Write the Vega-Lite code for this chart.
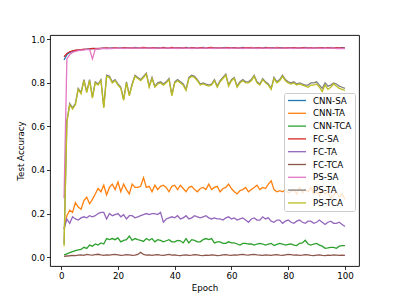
{
"$schema":"https://vega.github.io/schema/vega-lite/v6.json",
"autosize":"none",
"width":309,"height":231,
"padding":{"left":50,"top":35,"right":40,"bottom":33},
"background":"white",
"config":{"view":{"stroke":"#000","strokeWidth":0.9},"font":"DejaVu Sans"},
"datasets":{"d":[
{"e":1,"s":"CNN-SA","v":0.905},{"e":2,"s":"CNN-SA","v":0.93},{"e":3,"s":"CNN-SA","v":0.94},{"e":4,"s":"CNN-SA","v":0.945},{"e":5,"s":"CNN-SA","v":0.948},{"e":6,"s":"CNN-SA","v":0.95},{"e":7,"s":"CNN-SA","v":0.952},{"e":8,"s":"CNN-SA","v":0.953},{"e":9,"s":"CNN-SA","v":0.955},{"e":10,"s":"CNN-SA","v":0.956},
{"e":11,"s":"CNN-SA","v":0.957},{"e":12,"s":"CNN-SA","v":0.958},{"e":13,"s":"CNN-SA","v":0.956},{"e":14,"s":"CNN-SA","v":0.959},{"e":15,"s":"CNN-SA","v":0.96},{"e":16,"s":"CNN-SA","v":0.958},{"e":17,"s":"CNN-SA","v":0.96},{"e":18,"s":"CNN-SA","v":0.961},{"e":19,"s":"CNN-SA","v":0.959},{"e":20,"s":"CNN-SA","v":0.96},
{"e":21,"s":"CNN-SA","v":0.961},{"e":22,"s":"CNN-SA","v":0.96},{"e":23,"s":"CNN-SA","v":0.962},{"e":24,"s":"CNN-SA","v":0.96},{"e":25,"s":"CNN-SA","v":0.961},{"e":26,"s":"CNN-SA","v":0.963},{"e":27,"s":"CNN-SA","v":0.96},{"e":28,"s":"CNN-SA","v":0.961},{"e":29,"s":"CNN-SA","v":0.962},{"e":30,"s":"CNN-SA","v":0.96},
{"e":31,"s":"CNN-SA","v":0.962},{"e":32,"s":"CNN-SA","v":0.961},{"e":33,"s":"CNN-SA","v":0.96},{"e":34,"s":"CNN-SA","v":0.962},{"e":35,"s":"CNN-SA","v":0.961},{"e":36,"s":"CNN-SA","v":0.963},{"e":37,"s":"CNN-SA","v":0.961},{"e":38,"s":"CNN-SA","v":0.96},{"e":39,"s":"CNN-SA","v":0.962},{"e":40,"s":"CNN-SA","v":0.961},
{"e":41,"s":"CNN-SA","v":0.96},{"e":42,"s":"CNN-SA","v":0.962},{"e":43,"s":"CNN-SA","v":0.961},{"e":44,"s":"CNN-SA","v":0.963},{"e":45,"s":"CNN-SA","v":0.96},{"e":46,"s":"CNN-SA","v":0.961},{"e":47,"s":"CNN-SA","v":0.962},{"e":48,"s":"CNN-SA","v":0.96},{"e":49,"s":"CNN-SA","v":0.961},{"e":50,"s":"CNN-SA","v":0.963},
{"e":51,"s":"CNN-SA","v":0.961},{"e":52,"s":"CNN-SA","v":0.96},{"e":53,"s":"CNN-SA","v":0.962},{"e":54,"s":"CNN-SA","v":0.961},{"e":55,"s":"CNN-SA","v":0.96},{"e":56,"s":"CNN-SA","v":0.962},{"e":57,"s":"CNN-SA","v":0.961},{"e":58,"s":"CNN-SA","v":0.963},{"e":59,"s":"CNN-SA","v":0.96},{"e":60,"s":"CNN-SA","v":0.961},
{"e":61,"s":"CNN-SA","v":0.962},{"e":62,"s":"CNN-SA","v":0.96},{"e":63,"s":"CNN-SA","v":0.961},{"e":64,"s":"CNN-SA","v":0.963},{"e":65,"s":"CNN-SA","v":0.961},{"e":66,"s":"CNN-SA","v":0.96},{"e":67,"s":"CNN-SA","v":0.962},{"e":68,"s":"CNN-SA","v":0.961},{"e":69,"s":"CNN-SA","v":0.96},{"e":70,"s":"CNN-SA","v":0.962},
{"e":71,"s":"CNN-SA","v":0.961},{"e":72,"s":"CNN-SA","v":0.963},{"e":73,"s":"CNN-SA","v":0.96},{"e":74,"s":"CNN-SA","v":0.961},{"e":75,"s":"CNN-SA","v":0.962},{"e":76,"s":"CNN-SA","v":0.96},{"e":77,"s":"CNN-SA","v":0.961},{"e":78,"s":"CNN-SA","v":0.962},{"e":79,"s":"CNN-SA","v":0.961},{"e":80,"s":"CNN-SA","v":0.96},
{"e":81,"s":"CNN-SA","v":0.962},{"e":82,"s":"CNN-SA","v":0.961},{"e":83,"s":"CNN-SA","v":0.96},{"e":84,"s":"CNN-SA","v":0.962},{"e":85,"s":"CNN-SA","v":0.961},{"e":86,"s":"CNN-SA","v":0.963},{"e":87,"s":"CNN-SA","v":0.96},{"e":88,"s":"CNN-SA","v":0.961},{"e":89,"s":"CNN-SA","v":0.962},{"e":90,"s":"CNN-SA","v":0.96},
{"e":91,"s":"CNN-SA","v":0.961},{"e":92,"s":"CNN-SA","v":0.962},{"e":93,"s":"CNN-SA","v":0.96},{"e":94,"s":"CNN-SA","v":0.961},{"e":95,"s":"CNN-SA","v":0.963},{"e":96,"s":"CNN-SA","v":0.96},{"e":97,"s":"CNN-SA","v":0.961},{"e":98,"s":"CNN-SA","v":0.96},{"e":99,"s":"CNN-SA","v":0.962},{"e":100,"s":"CNN-SA","v":0.96},
{"e":1,"s":"CNN-TA","v":0.13},{"e":2,"s":"CNN-TA","v":0.19},{"e":3,"s":"CNN-TA","v":0.215},{"e":4,"s":"CNN-TA","v":0.205},{"e":5,"s":"CNN-TA","v":0.25},{"e":6,"s":"CNN-TA","v":0.23},{"e":7,"s":"CNN-TA","v":0.22},{"e":8,"s":"CNN-TA","v":0.26},{"e":9,"s":"CNN-TA","v":0.275},{"e":10,"s":"CNN-TA","v":0.245},
{"e":11,"s":"CNN-TA","v":0.265},{"e":12,"s":"CNN-TA","v":0.29},{"e":13,"s":"CNN-TA","v":0.315},{"e":14,"s":"CNN-TA","v":0.3},{"e":15,"s":"CNN-TA","v":0.33},{"e":16,"s":"CNN-TA","v":0.285},{"e":17,"s":"CNN-TA","v":0.32},{"e":18,"s":"CNN-TA","v":0.335},{"e":19,"s":"CNN-TA","v":0.31},{"e":20,"s":"CNN-TA","v":0.345},
{"e":21,"s":"CNN-TA","v":0.3},{"e":22,"s":"CNN-TA","v":0.335},{"e":23,"s":"CNN-TA","v":0.31},{"e":24,"s":"CNN-TA","v":0.29},{"e":25,"s":"CNN-TA","v":0.335},{"e":26,"s":"CNN-TA","v":0.32},{"e":27,"s":"CNN-TA","v":0.32},{"e":28,"s":"CNN-TA","v":0.325},{"e":29,"s":"CNN-TA","v":0.365},{"e":30,"s":"CNN-TA","v":0.32},
{"e":31,"s":"CNN-TA","v":0.325},{"e":32,"s":"CNN-TA","v":0.3},{"e":33,"s":"CNN-TA","v":0.33},{"e":34,"s":"CNN-TA","v":0.31},{"e":35,"s":"CNN-TA","v":0.325},{"e":36,"s":"CNN-TA","v":0.33},{"e":37,"s":"CNN-TA","v":0.32},{"e":38,"s":"CNN-TA","v":0.3},{"e":39,"s":"CNN-TA","v":0.325},{"e":40,"s":"CNN-TA","v":0.33},
{"e":41,"s":"CNN-TA","v":0.31},{"e":42,"s":"CNN-TA","v":0.33},{"e":43,"s":"CNN-TA","v":0.315},{"e":44,"s":"CNN-TA","v":0.3},{"e":45,"s":"CNN-TA","v":0.32},{"e":46,"s":"CNN-TA","v":0.325},{"e":47,"s":"CNN-TA","v":0.31},{"e":48,"s":"CNN-TA","v":0.3},{"e":49,"s":"CNN-TA","v":0.315},{"e":50,"s":"CNN-TA","v":0.32},
{"e":51,"s":"CNN-TA","v":0.31},{"e":52,"s":"CNN-TA","v":0.335},{"e":53,"s":"CNN-TA","v":0.31},{"e":54,"s":"CNN-TA","v":0.32},{"e":55,"s":"CNN-TA","v":0.325},{"e":56,"s":"CNN-TA","v":0.3},{"e":57,"s":"CNN-TA","v":0.315},{"e":58,"s":"CNN-TA","v":0.32},{"e":59,"s":"CNN-TA","v":0.335},{"e":60,"s":"CNN-TA","v":0.315},
{"e":61,"s":"CNN-TA","v":0.3},{"e":62,"s":"CNN-TA","v":0.29},{"e":63,"s":"CNN-TA","v":0.305},{"e":64,"s":"CNN-TA","v":0.31},{"e":65,"s":"CNN-TA","v":0.32},{"e":66,"s":"CNN-TA","v":0.3},{"e":67,"s":"CNN-TA","v":0.31},{"e":68,"s":"CNN-TA","v":0.32},{"e":69,"s":"CNN-TA","v":0.33},{"e":70,"s":"CNN-TA","v":0.31},
{"e":71,"s":"CNN-TA","v":0.32},{"e":72,"s":"CNN-TA","v":0.315},{"e":73,"s":"CNN-TA","v":0.335},{"e":74,"s":"CNN-TA","v":0.35},{"e":75,"s":"CNN-TA","v":0.31},{"e":76,"s":"CNN-TA","v":0.3},{"e":77,"s":"CNN-TA","v":0.305},{"e":78,"s":"CNN-TA","v":0.3},{"e":79,"s":"CNN-TA","v":0.31},{"e":80,"s":"CNN-TA","v":0.295},
{"e":81,"s":"CNN-TA","v":0.3},{"e":82,"s":"CNN-TA","v":0.31},{"e":83,"s":"CNN-TA","v":0.29},{"e":84,"s":"CNN-TA","v":0.32},{"e":85,"s":"CNN-TA","v":0.295},{"e":86,"s":"CNN-TA","v":0.31},{"e":87,"s":"CNN-TA","v":0.3},{"e":88,"s":"CNN-TA","v":0.32},{"e":89,"s":"CNN-TA","v":0.29},{"e":90,"s":"CNN-TA","v":0.3},
{"e":91,"s":"CNN-TA","v":0.28},{"e":92,"s":"CNN-TA","v":0.31},{"e":93,"s":"CNN-TA","v":0.29},{"e":94,"s":"CNN-TA","v":0.3},{"e":95,"s":"CNN-TA","v":0.27},{"e":96,"s":"CNN-TA","v":0.285},{"e":97,"s":"CNN-TA","v":0.3},{"e":98,"s":"CNN-TA","v":0.275},{"e":99,"s":"CNN-TA","v":0.29},{"e":100,"s":"CNN-TA","v":0.265},
{"e":1,"s":"CNN-TCA","v":0.01},{"e":2,"s":"CNN-TCA","v":0.015},{"e":3,"s":"CNN-TCA","v":0.02},{"e":4,"s":"CNN-TCA","v":0.025},{"e":5,"s":"CNN-TCA","v":0.03},{"e":6,"s":"CNN-TCA","v":0.033},{"e":7,"s":"CNN-TCA","v":0.035},{"e":8,"s":"CNN-TCA","v":0.045},{"e":9,"s":"CNN-TCA","v":0.04},{"e":10,"s":"CNN-TCA","v":0.055},
{"e":11,"s":"CNN-TCA","v":0.05},{"e":12,"s":"CNN-TCA","v":0.06},{"e":13,"s":"CNN-TCA","v":0.055},{"e":14,"s":"CNN-TCA","v":0.065},{"e":15,"s":"CNN-TCA","v":0.06},{"e":16,"s":"CNN-TCA","v":0.085},{"e":17,"s":"CNN-TCA","v":0.08},{"e":18,"s":"CNN-TCA","v":0.085},{"e":19,"s":"CNN-TCA","v":0.08},{"e":20,"s":"CNN-TCA","v":0.088},
{"e":21,"s":"CNN-TCA","v":0.07},{"e":22,"s":"CNN-TCA","v":0.077},{"e":23,"s":"CNN-TCA","v":0.08},{"e":24,"s":"CNN-TCA","v":0.096},{"e":25,"s":"CNN-TCA","v":0.077},{"e":26,"s":"CNN-TCA","v":0.085},{"e":27,"s":"CNN-TCA","v":0.08},{"e":28,"s":"CNN-TCA","v":0.077},{"e":29,"s":"CNN-TCA","v":0.072},{"e":30,"s":"CNN-TCA","v":0.085},
{"e":31,"s":"CNN-TCA","v":0.077},{"e":32,"s":"CNN-TCA","v":0.085},{"e":33,"s":"CNN-TCA","v":0.07},{"e":34,"s":"CNN-TCA","v":0.08},{"e":35,"s":"CNN-TCA","v":0.077},{"e":36,"s":"CNN-TCA","v":0.07},{"e":37,"s":"CNN-TCA","v":0.075},{"e":38,"s":"CNN-TCA","v":0.08},{"e":39,"s":"CNN-TCA","v":0.07},{"e":40,"s":"CNN-TCA","v":0.07},
{"e":41,"s":"CNN-TCA","v":0.077},{"e":42,"s":"CNN-TCA","v":0.075},{"e":43,"s":"CNN-TCA","v":0.065},{"e":44,"s":"CNN-TCA","v":0.085},{"e":45,"s":"CNN-TCA","v":0.065},{"e":46,"s":"CNN-TCA","v":0.08},{"e":47,"s":"CNN-TCA","v":0.077},{"e":48,"s":"CNN-TCA","v":0.07},{"e":49,"s":"CNN-TCA","v":0.07},{"e":50,"s":"CNN-TCA","v":0.08},
{"e":51,"s":"CNN-TCA","v":0.085},{"e":52,"s":"CNN-TCA","v":0.08},{"e":53,"s":"CNN-TCA","v":0.085},{"e":54,"s":"CNN-TCA","v":0.065},{"e":55,"s":"CNN-TCA","v":0.07},{"e":56,"s":"CNN-TCA","v":0.07},{"e":57,"s":"CNN-TCA","v":0.063},{"e":58,"s":"CNN-TCA","v":0.063},{"e":59,"s":"CNN-TCA","v":0.07},{"e":60,"s":"CNN-TCA","v":0.065},
{"e":61,"s":"CNN-TCA","v":0.065},{"e":62,"s":"CNN-TCA","v":0.06},{"e":63,"s":"CNN-TCA","v":0.055},{"e":64,"s":"CNN-TCA","v":0.063},{"e":65,"s":"CNN-TCA","v":0.063},{"e":66,"s":"CNN-TCA","v":0.06},{"e":67,"s":"CNN-TCA","v":0.06},{"e":68,"s":"CNN-TCA","v":0.055},{"e":69,"s":"CNN-TCA","v":0.06},{"e":70,"s":"CNN-TCA","v":0.063},
{"e":71,"s":"CNN-TCA","v":0.06},{"e":72,"s":"CNN-TCA","v":0.055},{"e":73,"s":"CNN-TCA","v":0.06},{"e":74,"s":"CNN-TCA","v":0.063},{"e":75,"s":"CNN-TCA","v":0.053},{"e":76,"s":"CNN-TCA","v":0.058},{"e":77,"s":"CNN-TCA","v":0.063},{"e":78,"s":"CNN-TCA","v":0.06},{"e":79,"s":"CNN-TCA","v":0.055},{"e":80,"s":"CNN-TCA","v":0.058},
{"e":81,"s":"CNN-TCA","v":0.06},{"e":82,"s":"CNN-TCA","v":0.055},{"e":83,"s":"CNN-TCA","v":0.053},{"e":84,"s":"CNN-TCA","v":0.063},{"e":85,"s":"CNN-TCA","v":0.065},{"e":86,"s":"CNN-TCA","v":0.077},{"e":87,"s":"CNN-TCA","v":0.06},{"e":88,"s":"CNN-TCA","v":0.055},{"e":89,"s":"CNN-TCA","v":0.06},{"e":90,"s":"CNN-TCA","v":0.063},
{"e":91,"s":"CNN-TCA","v":0.055},{"e":92,"s":"CNN-TCA","v":0.05},{"e":93,"s":"CNN-TCA","v":0.04},{"e":94,"s":"CNN-TCA","v":0.042},{"e":95,"s":"CNN-TCA","v":0.045},{"e":96,"s":"CNN-TCA","v":0.045},{"e":97,"s":"CNN-TCA","v":0.04},{"e":98,"s":"CNN-TCA","v":0.05},{"e":99,"s":"CNN-TCA","v":0.053},{"e":100,"s":"CNN-TCA","v":0.053},
{"e":1,"s":"FC-SA","v":0.92},{"e":2,"s":"FC-SA","v":0.935},{"e":3,"s":"FC-SA","v":0.943},{"e":4,"s":"FC-SA","v":0.947},{"e":5,"s":"FC-SA","v":0.95},{"e":6,"s":"FC-SA","v":0.951},{"e":7,"s":"FC-SA","v":0.953},{"e":8,"s":"FC-SA","v":0.955},{"e":9,"s":"FC-SA","v":0.954},{"e":10,"s":"FC-SA","v":0.956},
{"e":11,"s":"FC-SA","v":0.958},{"e":12,"s":"FC-SA","v":0.957},{"e":13,"s":"FC-SA","v":0.959},{"e":14,"s":"FC-SA","v":0.958},{"e":15,"s":"FC-SA","v":0.96},{"e":16,"s":"FC-SA","v":0.961},{"e":17,"s":"FC-SA","v":0.959},{"e":18,"s":"FC-SA","v":0.96},{"e":19,"s":"FC-SA","v":0.962},{"e":20,"s":"FC-SA","v":0.96},
{"e":21,"s":"FC-SA","v":0.959},{"e":22,"s":"FC-SA","v":0.962},{"e":23,"s":"FC-SA","v":0.961},{"e":24,"s":"FC-SA","v":0.96},{"e":25,"s":"FC-SA","v":0.962},{"e":26,"s":"FC-SA","v":0.961},{"e":27,"s":"FC-SA","v":0.959},{"e":28,"s":"FC-SA","v":0.962},{"e":29,"s":"FC-SA","v":0.963},{"e":30,"s":"FC-SA","v":0.961},
{"e":31,"s":"FC-SA","v":0.96},{"e":32,"s":"FC-SA","v":0.962},{"e":33,"s":"FC-SA","v":0.961},{"e":34,"s":"FC-SA","v":0.959},{"e":35,"s":"FC-SA","v":0.961},{"e":36,"s":"FC-SA","v":0.962},{"e":37,"s":"FC-SA","v":0.96},{"e":38,"s":"FC-SA","v":0.961},{"e":39,"s":"FC-SA","v":0.963},{"e":40,"s":"FC-SA","v":0.96},
{"e":41,"s":"FC-SA","v":0.961},{"e":42,"s":"FC-SA","v":0.96},{"e":43,"s":"FC-SA","v":0.962},{"e":44,"s":"FC-SA","v":0.961},{"e":45,"s":"FC-SA","v":0.959},{"e":46,"s":"FC-SA","v":0.962},{"e":47,"s":"FC-SA","v":0.961},{"e":48,"s":"FC-SA","v":0.96},{"e":49,"s":"FC-SA","v":0.962},{"e":50,"s":"FC-SA","v":0.961},
{"e":51,"s":"FC-SA","v":0.96},{"e":52,"s":"FC-SA","v":0.962},{"e":53,"s":"FC-SA","v":0.963},{"e":54,"s":"FC-SA","v":0.96},{"e":55,"s":"FC-SA","v":0.961},{"e":56,"s":"FC-SA","v":0.962},{"e":57,"s":"FC-SA","v":0.96},{"e":58,"s":"FC-SA","v":0.961},{"e":59,"s":"FC-SA","v":0.962},{"e":60,"s":"FC-SA","v":0.96},
{"e":61,"s":"FC-SA","v":0.961},{"e":62,"s":"FC-SA","v":0.962},{"e":63,"s":"FC-SA","v":0.96},{"e":64,"s":"FC-SA","v":0.961},{"e":65,"s":"FC-SA","v":0.962},{"e":66,"s":"FC-SA","v":0.961},{"e":67,"s":"FC-SA","v":0.963},{"e":68,"s":"FC-SA","v":0.96},{"e":69,"s":"FC-SA","v":0.961},{"e":70,"s":"FC-SA","v":0.962},
{"e":71,"s":"FC-SA","v":0.96},{"e":72,"s":"FC-SA","v":0.961},{"e":73,"s":"FC-SA","v":0.962},{"e":74,"s":"FC-SA","v":0.96},{"e":75,"s":"FC-SA","v":0.961},{"e":76,"s":"FC-SA","v":0.963},{"e":77,"s":"FC-SA","v":0.961},{"e":78,"s":"FC-SA","v":0.96},{"e":79,"s":"FC-SA","v":0.962},{"e":80,"s":"FC-SA","v":0.961},
{"e":81,"s":"FC-SA","v":0.96},{"e":82,"s":"FC-SA","v":0.962},{"e":83,"s":"FC-SA","v":0.961},{"e":84,"s":"FC-SA","v":0.96},{"e":85,"s":"FC-SA","v":0.962},{"e":86,"s":"FC-SA","v":0.961},{"e":87,"s":"FC-SA","v":0.96},{"e":88,"s":"FC-SA","v":0.962},{"e":89,"s":"FC-SA","v":0.961},{"e":90,"s":"FC-SA","v":0.96},
{"e":91,"s":"FC-SA","v":0.962},{"e":92,"s":"FC-SA","v":0.961},{"e":93,"s":"FC-SA","v":0.96},{"e":94,"s":"FC-SA","v":0.962},{"e":95,"s":"FC-SA","v":0.961},{"e":96,"s":"FC-SA","v":0.96},{"e":97,"s":"FC-SA","v":0.962},{"e":98,"s":"FC-SA","v":0.961},{"e":99,"s":"FC-SA","v":0.96},{"e":100,"s":"FC-SA","v":0.961},
{"e":1,"s":"FC-TA","v":0.13},{"e":2,"s":"FC-TA","v":0.175},{"e":3,"s":"FC-TA","v":0.155},{"e":4,"s":"FC-TA","v":0.185},{"e":5,"s":"FC-TA","v":0.175},{"e":6,"s":"FC-TA","v":0.17},{"e":7,"s":"FC-TA","v":0.18},{"e":8,"s":"FC-TA","v":0.185},{"e":9,"s":"FC-TA","v":0.18},{"e":10,"s":"FC-TA","v":0.19},
{"e":11,"s":"FC-TA","v":0.185},{"e":12,"s":"FC-TA","v":0.19},{"e":13,"s":"FC-TA","v":0.2},{"e":14,"s":"FC-TA","v":0.205},{"e":15,"s":"FC-TA","v":0.205},{"e":16,"s":"FC-TA","v":0.175},{"e":17,"s":"FC-TA","v":0.2},{"e":18,"s":"FC-TA","v":0.19},{"e":19,"s":"FC-TA","v":0.195},{"e":20,"s":"FC-TA","v":0.2},
{"e":21,"s":"FC-TA","v":0.185},{"e":22,"s":"FC-TA","v":0.195},{"e":23,"s":"FC-TA","v":0.175},{"e":24,"s":"FC-TA","v":0.19},{"e":25,"s":"FC-TA","v":0.19},{"e":26,"s":"FC-TA","v":0.18},{"e":27,"s":"FC-TA","v":0.185},{"e":28,"s":"FC-TA","v":0.19},{"e":29,"s":"FC-TA","v":0.195},{"e":30,"s":"FC-TA","v":0.2},
{"e":31,"s":"FC-TA","v":0.195},{"e":32,"s":"FC-TA","v":0.2},{"e":33,"s":"FC-TA","v":0.2},{"e":34,"s":"FC-TA","v":0.195},{"e":35,"s":"FC-TA","v":0.205},{"e":36,"s":"FC-TA","v":0.16},{"e":37,"s":"FC-TA","v":0.175},{"e":38,"s":"FC-TA","v":0.18},{"e":39,"s":"FC-TA","v":0.185},{"e":40,"s":"FC-TA","v":0.18},
{"e":41,"s":"FC-TA","v":0.19},{"e":42,"s":"FC-TA","v":0.175},{"e":43,"s":"FC-TA","v":0.18},{"e":44,"s":"FC-TA","v":0.19},{"e":45,"s":"FC-TA","v":0.175},{"e":46,"s":"FC-TA","v":0.18},{"e":47,"s":"FC-TA","v":0.19},{"e":48,"s":"FC-TA","v":0.185},{"e":49,"s":"FC-TA","v":0.18},{"e":50,"s":"FC-TA","v":0.185},
{"e":51,"s":"FC-TA","v":0.19},{"e":52,"s":"FC-TA","v":0.18},{"e":53,"s":"FC-TA","v":0.175},{"e":54,"s":"FC-TA","v":0.18},{"e":55,"s":"FC-TA","v":0.175},{"e":56,"s":"FC-TA","v":0.175},{"e":57,"s":"FC-TA","v":0.17},{"e":58,"s":"FC-TA","v":0.18},{"e":59,"s":"FC-TA","v":0.185},{"e":60,"s":"FC-TA","v":0.175},
{"e":61,"s":"FC-TA","v":0.18},{"e":62,"s":"FC-TA","v":0.17},{"e":63,"s":"FC-TA","v":0.175},{"e":64,"s":"FC-TA","v":0.18},{"e":65,"s":"FC-TA","v":0.17},{"e":66,"s":"FC-TA","v":0.16},{"e":67,"s":"FC-TA","v":0.175},{"e":68,"s":"FC-TA","v":0.18},{"e":69,"s":"FC-TA","v":0.17},{"e":70,"s":"FC-TA","v":0.17},
{"e":71,"s":"FC-TA","v":0.185},{"e":72,"s":"FC-TA","v":0.175},{"e":73,"s":"FC-TA","v":0.18},{"e":74,"s":"FC-TA","v":0.165},{"e":75,"s":"FC-TA","v":0.16},{"e":76,"s":"FC-TA","v":0.17},{"e":77,"s":"FC-TA","v":0.17},{"e":78,"s":"FC-TA","v":0.155},{"e":79,"s":"FC-TA","v":0.165},{"e":80,"s":"FC-TA","v":0.17},
{"e":81,"s":"FC-TA","v":0.16},{"e":82,"s":"FC-TA","v":0.155},{"e":83,"s":"FC-TA","v":0.165},{"e":84,"s":"FC-TA","v":0.17},{"e":85,"s":"FC-TA","v":0.16},{"e":86,"s":"FC-TA","v":0.155},{"e":87,"s":"FC-TA","v":0.165},{"e":88,"s":"FC-TA","v":0.165},{"e":89,"s":"FC-TA","v":0.155},{"e":90,"s":"FC-TA","v":0.16},
{"e":91,"s":"FC-TA","v":0.17},{"e":92,"s":"FC-TA","v":0.16},{"e":93,"s":"FC-TA","v":0.15},{"e":94,"s":"FC-TA","v":0.16},{"e":95,"s":"FC-TA","v":0.165},{"e":96,"s":"FC-TA","v":0.155},{"e":97,"s":"FC-TA","v":0.155},{"e":98,"s":"FC-TA","v":0.16},{"e":99,"s":"FC-TA","v":0.15},{"e":100,"s":"FC-TA","v":0.14},
{"e":1,"s":"FC-TCA","v":0.003},{"e":2,"s":"FC-TCA","v":0.005},{"e":3,"s":"FC-TCA","v":0.006},{"e":4,"s":"FC-TCA","v":0.008},{"e":5,"s":"FC-TCA","v":0.007},{"e":6,"s":"FC-TCA","v":0.009},{"e":7,"s":"FC-TCA","v":0.01},{"e":8,"s":"FC-TCA","v":0.008},{"e":9,"s":"FC-TCA","v":0.012},{"e":10,"s":"FC-TCA","v":0.01},
{"e":11,"s":"FC-TCA","v":0.009},{"e":12,"s":"FC-TCA","v":0.011},{"e":13,"s":"FC-TCA","v":0.013},{"e":14,"s":"FC-TCA","v":0.01},{"e":15,"s":"FC-TCA","v":0.008},{"e":16,"s":"FC-TCA","v":0.01},{"e":17,"s":"FC-TCA","v":0.009},{"e":18,"s":"FC-TCA","v":0.011},{"e":19,"s":"FC-TCA","v":0.012},{"e":20,"s":"FC-TCA","v":0.01},
{"e":21,"s":"FC-TCA","v":0.008},{"e":22,"s":"FC-TCA","v":0.009},{"e":23,"s":"FC-TCA","v":0.011},{"e":24,"s":"FC-TCA","v":0.01},{"e":25,"s":"FC-TCA","v":0.008},{"e":26,"s":"FC-TCA","v":0.009},{"e":27,"s":"FC-TCA","v":0.012},{"e":28,"s":"FC-TCA","v":0.022},{"e":29,"s":"FC-TCA","v":0.012},{"e":30,"s":"FC-TCA","v":0.009},
{"e":31,"s":"FC-TCA","v":0.01},{"e":32,"s":"FC-TCA","v":0.008},{"e":33,"s":"FC-TCA","v":0.01},{"e":34,"s":"FC-TCA","v":0.011},{"e":35,"s":"FC-TCA","v":0.009},{"e":36,"s":"FC-TCA","v":0.008},{"e":37,"s":"FC-TCA","v":0.01},{"e":38,"s":"FC-TCA","v":0.012},{"e":39,"s":"FC-TCA","v":0.009},{"e":40,"s":"FC-TCA","v":0.01},
{"e":41,"s":"FC-TCA","v":0.008},{"e":42,"s":"FC-TCA","v":0.007},{"e":43,"s":"FC-TCA","v":0.009},{"e":44,"s":"FC-TCA","v":0.01},{"e":45,"s":"FC-TCA","v":0.008},{"e":46,"s":"FC-TCA","v":0.009},{"e":47,"s":"FC-TCA","v":0.011},{"e":48,"s":"FC-TCA","v":0.01},{"e":49,"s":"FC-TCA","v":0.008},{"e":50,"s":"FC-TCA","v":0.007},
{"e":51,"s":"FC-TCA","v":0.009},{"e":52,"s":"FC-TCA","v":0.008},{"e":53,"s":"FC-TCA","v":0.01},{"e":54,"s":"FC-TCA","v":0.009},{"e":55,"s":"FC-TCA","v":0.007},{"e":56,"s":"FC-TCA","v":0.008},{"e":57,"s":"FC-TCA","v":0.01},{"e":58,"s":"FC-TCA","v":0.011},{"e":59,"s":"FC-TCA","v":0.009},{"e":60,"s":"FC-TCA","v":0.008},
{"e":61,"s":"FC-TCA","v":0.01},{"e":62,"s":"FC-TCA","v":0.009},{"e":63,"s":"FC-TCA","v":0.011},{"e":64,"s":"FC-TCA","v":0.012},{"e":65,"s":"FC-TCA","v":0.01},{"e":66,"s":"FC-TCA","v":0.009},{"e":67,"s":"FC-TCA","v":0.011},{"e":68,"s":"FC-TCA","v":0.012},{"e":69,"s":"FC-TCA","v":0.01},{"e":70,"s":"FC-TCA","v":0.009},
{"e":71,"s":"FC-TCA","v":0.008},{"e":72,"s":"FC-TCA","v":0.01},{"e":73,"s":"FC-TCA","v":0.009},{"e":74,"s":"FC-TCA","v":0.008},{"e":75,"s":"FC-TCA","v":0.01},{"e":76,"s":"FC-TCA","v":0.011},{"e":77,"s":"FC-TCA","v":0.009},{"e":78,"s":"FC-TCA","v":0.008},{"e":79,"s":"FC-TCA","v":0.01},{"e":80,"s":"FC-TCA","v":0.012},
{"e":81,"s":"FC-TCA","v":0.011},{"e":82,"s":"FC-TCA","v":0.009},{"e":83,"s":"FC-TCA","v":0.01},{"e":84,"s":"FC-TCA","v":0.008},{"e":85,"s":"FC-TCA","v":0.009},{"e":86,"s":"FC-TCA","v":0.011},{"e":87,"s":"FC-TCA","v":0.01},{"e":88,"s":"FC-TCA","v":0.008},{"e":89,"s":"FC-TCA","v":0.007},{"e":90,"s":"FC-TCA","v":0.009},
{"e":91,"s":"FC-TCA","v":0.01},{"e":92,"s":"FC-TCA","v":0.008},{"e":93,"s":"FC-TCA","v":0.007},{"e":94,"s":"FC-TCA","v":0.009},{"e":95,"s":"FC-TCA","v":0.008},{"e":96,"s":"FC-TCA","v":0.01},{"e":97,"s":"FC-TCA","v":0.009},{"e":98,"s":"FC-TCA","v":0.008},{"e":99,"s":"FC-TCA","v":0.009},{"e":100,"s":"FC-TCA","v":0.008},
{"e":1,"s":"PS-SA","v":0.27},{"e":2,"s":"PS-SA","v":0.91},{"e":3,"s":"PS-SA","v":0.93},{"e":4,"s":"PS-SA","v":0.94},{"e":5,"s":"PS-SA","v":0.945},{"e":6,"s":"PS-SA","v":0.948},{"e":7,"s":"PS-SA","v":0.95},{"e":8,"s":"PS-SA","v":0.952},{"e":9,"s":"PS-SA","v":0.953},{"e":10,"s":"PS-SA","v":0.954},
{"e":11,"s":"PS-SA","v":0.91},{"e":12,"s":"PS-SA","v":0.955},{"e":13,"s":"PS-SA","v":0.956},{"e":14,"s":"PS-SA","v":0.957},{"e":15,"s":"PS-SA","v":0.958},{"e":16,"s":"PS-SA","v":0.957},{"e":17,"s":"PS-SA","v":0.959},{"e":18,"s":"PS-SA","v":0.958},{"e":19,"s":"PS-SA","v":0.96},{"e":20,"s":"PS-SA","v":0.959},
{"e":21,"s":"PS-SA","v":0.96},{"e":22,"s":"PS-SA","v":0.958},{"e":23,"s":"PS-SA","v":0.96},{"e":24,"s":"PS-SA","v":0.959},{"e":25,"s":"PS-SA","v":0.961},{"e":26,"s":"PS-SA","v":0.96},{"e":27,"s":"PS-SA","v":0.959},{"e":28,"s":"PS-SA","v":0.961},{"e":29,"s":"PS-SA","v":0.96},{"e":30,"s":"PS-SA","v":0.959},
{"e":31,"s":"PS-SA","v":0.961},{"e":32,"s":"PS-SA","v":0.96},{"e":33,"s":"PS-SA","v":0.958},{"e":34,"s":"PS-SA","v":0.96},{"e":35,"s":"PS-SA","v":0.961},{"e":36,"s":"PS-SA","v":0.959},{"e":37,"s":"PS-SA","v":0.96},{"e":38,"s":"PS-SA","v":0.961},{"e":39,"s":"PS-SA","v":0.959},{"e":40,"s":"PS-SA","v":0.96},
{"e":41,"s":"PS-SA","v":0.958},{"e":42,"s":"PS-SA","v":0.96},{"e":43,"s":"PS-SA","v":0.961},{"e":44,"s":"PS-SA","v":0.959},{"e":45,"s":"PS-SA","v":0.96},{"e":46,"s":"PS-SA","v":0.958},{"e":47,"s":"PS-SA","v":0.96},{"e":48,"s":"PS-SA","v":0.961},{"e":49,"s":"PS-SA","v":0.959},{"e":50,"s":"PS-SA","v":0.96},
{"e":51,"s":"PS-SA","v":0.961},{"e":52,"s":"PS-SA","v":0.959},{"e":53,"s":"PS-SA","v":0.96},{"e":54,"s":"PS-SA","v":0.958},{"e":55,"s":"PS-SA","v":0.96},{"e":56,"s":"PS-SA","v":0.961},{"e":57,"s":"PS-SA","v":0.959},{"e":58,"s":"PS-SA","v":0.96},{"e":59,"s":"PS-SA","v":0.958},{"e":60,"s":"PS-SA","v":0.96},
{"e":61,"s":"PS-SA","v":0.959},{"e":62,"s":"PS-SA","v":0.961},{"e":63,"s":"PS-SA","v":0.96},{"e":64,"s":"PS-SA","v":0.958},{"e":65,"s":"PS-SA","v":0.96},{"e":66,"s":"PS-SA","v":0.959},{"e":67,"s":"PS-SA","v":0.961},{"e":68,"s":"PS-SA","v":0.96},{"e":69,"s":"PS-SA","v":0.958},{"e":70,"s":"PS-SA","v":0.96},
{"e":71,"s":"PS-SA","v":0.961},{"e":72,"s":"PS-SA","v":0.959},{"e":73,"s":"PS-SA","v":0.96},{"e":74,"s":"PS-SA","v":0.958},{"e":75,"s":"PS-SA","v":0.96},{"e":76,"s":"PS-SA","v":0.961},{"e":77,"s":"PS-SA","v":0.959},{"e":78,"s":"PS-SA","v":0.96},{"e":79,"s":"PS-SA","v":0.961},{"e":80,"s":"PS-SA","v":0.959},
{"e":81,"s":"PS-SA","v":0.96},{"e":82,"s":"PS-SA","v":0.958},{"e":83,"s":"PS-SA","v":0.96},{"e":84,"s":"PS-SA","v":0.961},{"e":85,"s":"PS-SA","v":0.959},{"e":86,"s":"PS-SA","v":0.96},{"e":87,"s":"PS-SA","v":0.958},{"e":88,"s":"PS-SA","v":0.96},{"e":89,"s":"PS-SA","v":0.961},{"e":90,"s":"PS-SA","v":0.959},
{"e":91,"s":"PS-SA","v":0.96},{"e":92,"s":"PS-SA","v":0.958},{"e":93,"s":"PS-SA","v":0.96},{"e":94,"s":"PS-SA","v":0.959},{"e":95,"s":"PS-SA","v":0.961},{"e":96,"s":"PS-SA","v":0.96},{"e":97,"s":"PS-SA","v":0.958},{"e":98,"s":"PS-SA","v":0.959},{"e":99,"s":"PS-SA","v":0.957},{"e":100,"s":"PS-SA","v":0.958},
{"e":1,"s":"PS-TA","v":0.06},{"e":2,"s":"PS-TA","v":0.625},{"e":3,"s":"PS-TA","v":0.705},{"e":4,"s":"PS-TA","v":0.685},{"e":5,"s":"PS-TA","v":0.705},{"e":6,"s":"PS-TA","v":0.775},{"e":7,"s":"PS-TA","v":0.755},{"e":8,"s":"PS-TA","v":0.815},{"e":9,"s":"PS-TA","v":0.76},{"e":10,"s":"PS-TA","v":0.815},
{"e":11,"s":"PS-TA","v":0.735},{"e":12,"s":"PS-TA","v":0.805},{"e":13,"s":"PS-TA","v":0.795},{"e":14,"s":"PS-TA","v":0.815},{"e":15,"s":"PS-TA","v":0.69},{"e":16,"s":"PS-TA","v":0.835},{"e":17,"s":"PS-TA","v":0.83},{"e":18,"s":"PS-TA","v":0.805},{"e":19,"s":"PS-TA","v":0.815},{"e":20,"s":"PS-TA","v":0.795},
{"e":21,"s":"PS-TA","v":0.78},{"e":22,"s":"PS-TA","v":0.725},{"e":23,"s":"PS-TA","v":0.805},{"e":24,"s":"PS-TA","v":0.745},{"e":25,"s":"PS-TA","v":0.795},{"e":26,"s":"PS-TA","v":0.835},{"e":27,"s":"PS-TA","v":0.825},{"e":28,"s":"PS-TA","v":0.815},{"e":29,"s":"PS-TA","v":0.83},{"e":30,"s":"PS-TA","v":0.845},
{"e":31,"s":"PS-TA","v":0.785},{"e":32,"s":"PS-TA","v":0.825},{"e":33,"s":"PS-TA","v":0.785},{"e":34,"s":"PS-TA","v":0.8},{"e":35,"s":"PS-TA","v":0.805},{"e":36,"s":"PS-TA","v":0.795},{"e":37,"s":"PS-TA","v":0.805},{"e":38,"s":"PS-TA","v":0.82},{"e":39,"s":"PS-TA","v":0.745},{"e":40,"s":"PS-TA","v":0.805},
{"e":41,"s":"PS-TA","v":0.815},{"e":42,"s":"PS-TA","v":0.805},{"e":43,"s":"PS-TA","v":0.795},{"e":44,"s":"PS-TA","v":0.77},{"e":45,"s":"PS-TA","v":0.825},{"e":46,"s":"PS-TA","v":0.835},{"e":47,"s":"PS-TA","v":0.83},{"e":48,"s":"PS-TA","v":0.815},{"e":49,"s":"PS-TA","v":0.795},{"e":50,"s":"PS-TA","v":0.8},
{"e":51,"s":"PS-TA","v":0.795},{"e":52,"s":"PS-TA","v":0.79},{"e":53,"s":"PS-TA","v":0.795},{"e":54,"s":"PS-TA","v":0.815},{"e":55,"s":"PS-TA","v":0.785},{"e":56,"s":"PS-TA","v":0.81},{"e":57,"s":"PS-TA","v":0.825},{"e":58,"s":"PS-TA","v":0.84},{"e":59,"s":"PS-TA","v":0.79},{"e":60,"s":"PS-TA","v":0.815},
{"e":61,"s":"PS-TA","v":0.825},{"e":62,"s":"PS-TA","v":0.785},{"e":63,"s":"PS-TA","v":0.805},{"e":64,"s":"PS-TA","v":0.815},{"e":65,"s":"PS-TA","v":0.805},{"e":66,"s":"PS-TA","v":0.805},{"e":67,"s":"PS-TA","v":0.815},{"e":68,"s":"PS-TA","v":0.835},{"e":69,"s":"PS-TA","v":0.805},{"e":70,"s":"PS-TA","v":0.795},
{"e":71,"s":"PS-TA","v":0.82},{"e":72,"s":"PS-TA","v":0.805},{"e":73,"s":"PS-TA","v":0.795},{"e":74,"s":"PS-TA","v":0.775},{"e":75,"s":"PS-TA","v":0.825},{"e":76,"s":"PS-TA","v":0.805},{"e":77,"s":"PS-TA","v":0.815},{"e":78,"s":"PS-TA","v":0.835},{"e":79,"s":"PS-TA","v":0.815},{"e":80,"s":"PS-TA","v":0.805},
{"e":81,"s":"PS-TA","v":0.8},{"e":82,"s":"PS-TA","v":0.805},{"e":83,"s":"PS-TA","v":0.795},{"e":84,"s":"PS-TA","v":0.8},{"e":85,"s":"PS-TA","v":0.795},{"e":86,"s":"PS-TA","v":0.79},{"e":87,"s":"PS-TA","v":0.79},{"e":88,"s":"PS-TA","v":0.8},{"e":89,"s":"PS-TA","v":0.8},{"e":90,"s":"PS-TA","v":0.805},
{"e":91,"s":"PS-TA","v":0.79},{"e":92,"s":"PS-TA","v":0.775},{"e":93,"s":"PS-TA","v":0.8},{"e":94,"s":"PS-TA","v":0.785},{"e":95,"s":"PS-TA","v":0.79},{"e":96,"s":"PS-TA","v":0.8},{"e":97,"s":"PS-TA","v":0.795},{"e":98,"s":"PS-TA","v":0.785},{"e":99,"s":"PS-TA","v":0.78},{"e":100,"s":"PS-TA","v":0.775},
{"e":1,"s":"PS-TCA","v":0.05},{"e":2,"s":"PS-TCA","v":0.62},{"e":3,"s":"PS-TCA","v":0.7},{"e":4,"s":"PS-TCA","v":0.68},{"e":5,"s":"PS-TCA","v":0.7},{"e":6,"s":"PS-TCA","v":0.77},{"e":7,"s":"PS-TCA","v":0.75},{"e":8,"s":"PS-TCA","v":0.81},{"e":9,"s":"PS-TCA","v":0.755},{"e":10,"s":"PS-TCA","v":0.81},
{"e":11,"s":"PS-TCA","v":0.73},{"e":12,"s":"PS-TCA","v":0.8},{"e":13,"s":"PS-TCA","v":0.79},{"e":14,"s":"PS-TCA","v":0.81},{"e":15,"s":"PS-TCA","v":0.685},{"e":16,"s":"PS-TCA","v":0.83},{"e":17,"s":"PS-TCA","v":0.825},{"e":18,"s":"PS-TCA","v":0.8},{"e":19,"s":"PS-TCA","v":0.81},{"e":20,"s":"PS-TCA","v":0.79},
{"e":21,"s":"PS-TCA","v":0.775},{"e":22,"s":"PS-TCA","v":0.72},{"e":23,"s":"PS-TCA","v":0.8},{"e":24,"s":"PS-TCA","v":0.74},{"e":25,"s":"PS-TCA","v":0.79},{"e":26,"s":"PS-TCA","v":0.83},{"e":27,"s":"PS-TCA","v":0.82},{"e":28,"s":"PS-TCA","v":0.81},{"e":29,"s":"PS-TCA","v":0.825},{"e":30,"s":"PS-TCA","v":0.84},
{"e":31,"s":"PS-TCA","v":0.78},{"e":32,"s":"PS-TCA","v":0.82},{"e":33,"s":"PS-TCA","v":0.78},{"e":34,"s":"PS-TCA","v":0.795},{"e":35,"s":"PS-TCA","v":0.8},{"e":36,"s":"PS-TCA","v":0.79},{"e":37,"s":"PS-TCA","v":0.8},{"e":38,"s":"PS-TCA","v":0.815},{"e":39,"s":"PS-TCA","v":0.74},{"e":40,"s":"PS-TCA","v":0.8},
{"e":41,"s":"PS-TCA","v":0.81},{"e":42,"s":"PS-TCA","v":0.8},{"e":43,"s":"PS-TCA","v":0.79},{"e":44,"s":"PS-TCA","v":0.765},{"e":45,"s":"PS-TCA","v":0.82},{"e":46,"s":"PS-TCA","v":0.83},{"e":47,"s":"PS-TCA","v":0.825},{"e":48,"s":"PS-TCA","v":0.81},{"e":49,"s":"PS-TCA","v":0.79},{"e":50,"s":"PS-TCA","v":0.795},
{"e":51,"s":"PS-TCA","v":0.79},{"e":52,"s":"PS-TCA","v":0.785},{"e":53,"s":"PS-TCA","v":0.79},{"e":54,"s":"PS-TCA","v":0.81},{"e":55,"s":"PS-TCA","v":0.78},{"e":56,"s":"PS-TCA","v":0.805},{"e":57,"s":"PS-TCA","v":0.82},{"e":58,"s":"PS-TCA","v":0.835},{"e":59,"s":"PS-TCA","v":0.785},{"e":60,"s":"PS-TCA","v":0.81},
{"e":61,"s":"PS-TCA","v":0.82},{"e":62,"s":"PS-TCA","v":0.78},{"e":63,"s":"PS-TCA","v":0.8},{"e":64,"s":"PS-TCA","v":0.81},{"e":65,"s":"PS-TCA","v":0.8},{"e":66,"s":"PS-TCA","v":0.8},{"e":67,"s":"PS-TCA","v":0.81},{"e":68,"s":"PS-TCA","v":0.83},{"e":69,"s":"PS-TCA","v":0.8},{"e":70,"s":"PS-TCA","v":0.79},
{"e":71,"s":"PS-TCA","v":0.815},{"e":72,"s":"PS-TCA","v":0.8},{"e":73,"s":"PS-TCA","v":0.79},{"e":74,"s":"PS-TCA","v":0.77},{"e":75,"s":"PS-TCA","v":0.82},{"e":76,"s":"PS-TCA","v":0.8},{"e":77,"s":"PS-TCA","v":0.81},{"e":78,"s":"PS-TCA","v":0.83},{"e":79,"s":"PS-TCA","v":0.81},{"e":80,"s":"PS-TCA","v":0.8},
{"e":81,"s":"PS-TCA","v":0.795},{"e":82,"s":"PS-TCA","v":0.8},{"e":83,"s":"PS-TCA","v":0.79},{"e":84,"s":"PS-TCA","v":0.795},{"e":85,"s":"PS-TCA","v":0.79},{"e":86,"s":"PS-TCA","v":0.785},{"e":87,"s":"PS-TCA","v":0.78},{"e":88,"s":"PS-TCA","v":0.79},{"e":89,"s":"PS-TCA","v":0.79},{"e":90,"s":"PS-TCA","v":0.795},
{"e":91,"s":"PS-TCA","v":0.78},{"e":92,"s":"PS-TCA","v":0.76},{"e":93,"s":"PS-TCA","v":0.79},{"e":94,"s":"PS-TCA","v":0.77},{"e":95,"s":"PS-TCA","v":0.78},{"e":96,"s":"PS-TCA","v":0.795},{"e":97,"s":"PS-TCA","v":0.785},{"e":98,"s":"PS-TCA","v":0.775},{"e":99,"s":"PS-TCA","v":0.77},{"e":100,"s":"PS-TCA","v":0.765}
]},
"data":{"name":"d"},
"mark":{"type":"line","strokeWidth":1.3,"clip":true},
"encoding":{
"x":{"field":"e","type":"quantitative","scale":{"domain":[-3.95,104.95],"nice":false,"zero":false},
"axis":{"title":"Epoch","values":[0,20,40,60,80,100],"grid":false,"domain":false,"tickSize":3.5,"tickColor":"#000","tickWidth":0.8,"labelColor":"#000","labelFontSize":8.7,"labelFont":"DejaVu Sans","labelPadding":2,"titleFont":"DejaVu Sans","titleFontSize":8.7,"titleFontWeight":"normal","titleColor":"#000","titlePadding":3}},
"y":{"field":"v","type":"quantitative","scale":{"domain":[-0.041,1.02],"nice":false,"zero":false},
"axis":{"title":"Test Accuracy","values":[0,0.2,0.4,0.6,0.8,1.0],"format":".1f","grid":false,"domain":false,"tickSize":3.5,"tickColor":"#000","tickWidth":0.8,"labelColor":"#000","labelFontSize":8.7,"labelFont":"DejaVu Sans","labelPadding":2,"titleFont":"DejaVu Sans","titleFontSize":8.7,"titleFontWeight":"normal","titleColor":"#000","titlePadding":5}},
"color":{"field":"s","type":"nominal","sort":["CNN-SA","CNN-TA","CNN-TCA","FC-SA","FC-TA","FC-TCA","PS-SA","PS-TA","PS-TCA"],
"scale":{"domain":["CNN-SA","CNN-TA","CNN-TCA","FC-SA","FC-TA","FC-TCA","PS-SA","PS-TA","PS-TCA"],"range":["#1f77b4","#ff7f0e","#2ca02c","#d62728","#9467bd","#8c564b","#e377c2","#7f7f7f","#bcbd22"]},
"legend":{"title":null,"orient":"none","legendX":234,"legendY":58,"symbolType":"M-1,0H4.14","symbolSize":49,"symbolStrokeWidth":1.3,"labelFont":"DejaVu Sans","labelFontSize":8.7,"labelColor":"#000","labelOffset":17,"rowPadding":2.8,"padding":3,"fillColor":"rgba(255,255,255,0.8)","strokeColor":"#cccccc","cornerRadius":2}}
}
}
